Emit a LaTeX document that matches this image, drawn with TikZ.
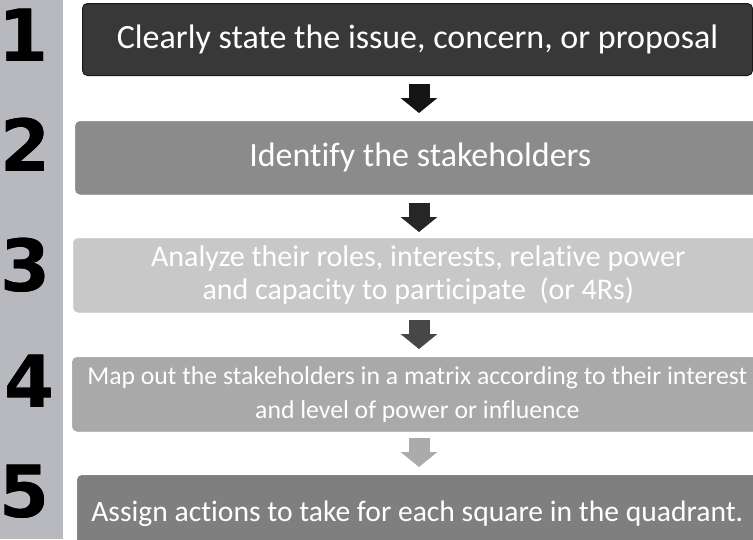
\documentclass[tikz,border=0pt]{standalone}
\usepackage{fontspec}
\setmainfont{Carlito}[Ligatures={NoCommon}]
\newfontfamily\digitfont{DejaVu Sans}[Scale=1]
\usepackage[outline]{contour}
\usetikzlibrary{arrows.meta,calc}
\definecolor{stripc}{HTML}{B8B9BE}
\definecolor{c1}{HTML}{383838}
\definecolor{c2}{HTML}{8B8B8B}
\definecolor{c3}{HTML}{C8C8C8}
\definecolor{c4}{HTML}{A9A9A9}
\definecolor{c5}{HTML}{7F7F7F}
\tikzset{
  box/.style={rounded corners=5pt, inner sep=0pt, text=white, align=center, anchor=north west},
  digit/.style={text=black, inner sep=0pt, font=\digitfont\bfseries\fontsize{72}{72}\selectfont},
  blockarrow/.style={line width=21pt, -{Triangle[width=36pt,length=15pt]}}
}
\newcommand{\bigdigit}[1]{\contourlength{2.8pt}\contour{black}{#1}}
\begin{document}
\begin{tikzpicture}[x=1pt,y=-1pt]
\useasboundingbox (0,0) rectangle (753,539);
\clip (0,0) rectangle (753,539);
\fill[white] (0,0) rectangle (753,539);
\fill[stripc] (0,0) rectangle (62.5,539);
% digits
\node[digit] (d1) at (24,35) {\bigdigit{1}};
\node[digit] (d2) at (26,145) {\bigdigit{2}};
\node[digit] (d3) at (26,265) {\bigdigit{3}};
\node[digit] (d4) at (30,381) {\bigdigit{4}};
\node[digit] (d5) at (25,492) {\bigdigit{5}};
% boxes
\node[box, fill=c1, draw=black!90, line width=1pt, minimum width=670, minimum height=72,
      font=\fontsize{34}{36}\selectfont] (b1) at (82,3) {Clearly state the issue, concern, or proposal};
\node[box, fill=c2, draw=black!45, line width=0.6pt, minimum width=690, minimum height=73,
      font=\fontsize{34}{36}\selectfont] (b2) at (75,121) {Identify the stakeholders};
\node[box, fill=c3, draw=black!20, line width=0.6pt, minimum width=690, minimum height=74,
      font=\fontsize{30}{33}\selectfont] (b3) at (73,238) {Analyze their roles, interests, relative power\\and capacity to participate\ \ (or 4Rs)};
\node[box, fill=c4, draw=black!35, line width=0.6pt, minimum width=690, minimum height=74,
      font=\fontsize{25.7}{34}\selectfont] (b4) at (72,357) {Map out the stakeholders in a matrix according to their interest\\and level of power or influence};
\node[box, fill=c5, draw=black!55, line width=0.6pt, minimum width=690, minimum height=76,
      font=\fontsize{29.6}{32}\selectfont] (b5) at (77,475) {\kern-10pt\raisebox{-5pt}{Assign actions to take for each square in the quadrant.}};
% arrows
\coordinate (ax) at (419,0);
\draw[blockarrow, draw=black!92] ($(b1.south -| ax)+(0,8)$) -- ($(b2.north -| ax)+(0,-8)$);
\draw[blockarrow, draw=black!85] ($(b2.south -| ax)+(0,8)$) -- ($(b3.north -| ax)+(0,-6)$);
\draw[blockarrow, draw=black!72] ($(b3.south -| ax)+(0,7)$) -- ($(b4.north -| ax)+(0,-8)$);
\draw[blockarrow, draw=black!33] ($(b4.south -| ax)+(0,6)$) -- ($(b5.north -| ax)+(0,-8)$);
\end{tikzpicture}
\end{document}
